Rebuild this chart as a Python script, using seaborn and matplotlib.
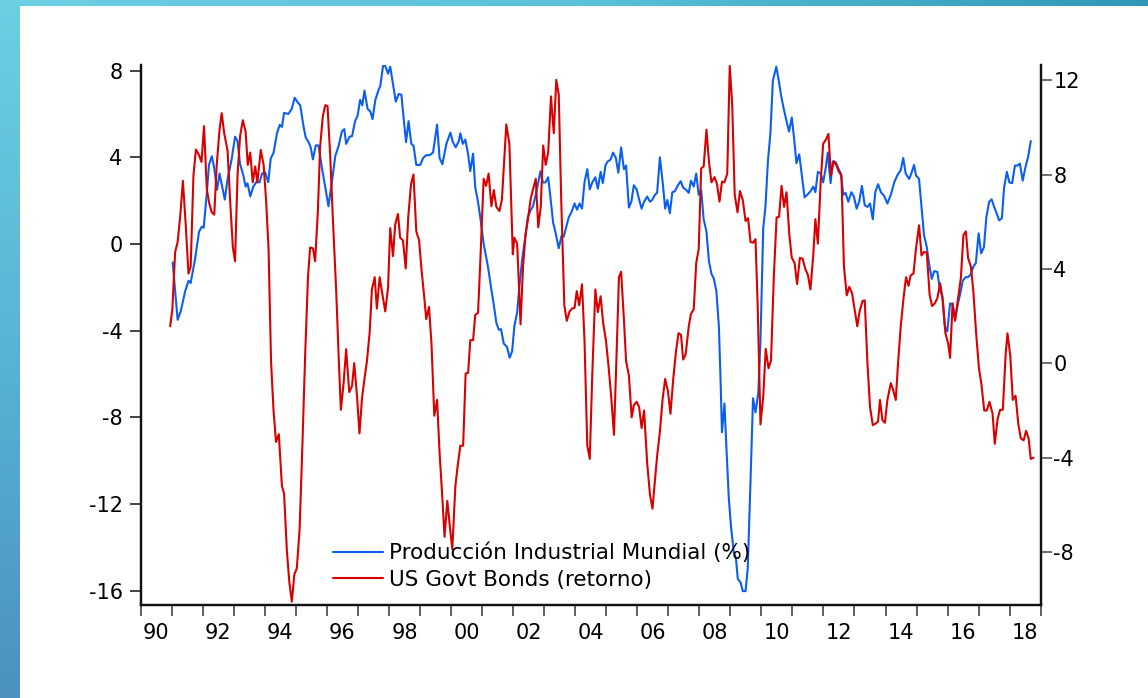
import matplotlib
matplotlib.use("Agg")
import numpy as np
import pandas as pd
import matplotlib.pyplot as plt
import seaborn as sns
from matplotlib.colors import LinearSegmentedColormap

# --- datos (anio decimal, valor) ---
ip_year = [
    1991.03, 1991.19, 1991.29, 1991.43, 1991.54, 1991.61, 1991.75, 1991.88, 1991.97, 1992.03,
    1992.13, 1992.20, 1992.29, 1992.37, 1992.46, 1992.54, 1992.61, 1992.71, 1992.80, 1992.93,
    1993.04, 1993.12, 1993.20, 1993.31, 1993.38, 1993.44, 1993.53, 1993.63, 1993.72, 1993.83,
    1993.91, 1994.01, 1994.11, 1994.19, 1994.28, 1994.39, 1994.48, 1994.55, 1994.62, 1994.76,
    1994.87, 1994.96, 1995.05, 1995.14, 1995.25, 1995.32, 1995.41, 1995.48, 1995.55, 1995.64,
    1995.73, 1995.84, 1995.95, 1996.05, 1996.19, 1996.27, 1996.38, 1996.48, 1996.56, 1996.62,
    1996.73, 1996.81, 1996.91, 1996.99, 1997.07, 1997.14, 1997.21, 1997.31, 1997.40, 1997.47,
    1997.56, 1997.67, 1997.72, 1997.81, 1997.88, 1997.97, 1998.04, 1998.15, 1998.22, 1998.31,
    1998.40, 1998.47, 1998.55, 1998.63, 1998.72, 1998.79, 1998.88, 1999.01, 1999.10, 1999.20,
    1999.31, 1999.42, 1999.55, 1999.63, 1999.72, 1999.85, 1999.98, 2000.06, 2000.15, 2000.25,
    2000.30, 2000.38, 2000.46, 2000.55, 2000.62, 2000.71, 2000.78, 2000.86, 2000.95, 2001.05,
    2001.19, 2001.29, 2001.38, 2001.46, 2001.54, 2001.61, 2001.70, 2001.80, 2001.89, 2001.97,
    2002.04, 2002.13, 2002.21, 2002.29, 2002.40, 2002.47, 2002.56, 2002.64, 2002.73, 2002.81,
    2002.88, 2002.96, 2003.04, 2003.13, 2003.20, 2003.29, 2003.36, 2003.47, 2003.56, 2003.63,
    2003.72, 2003.79, 2003.88, 2003.98, 2004.06, 2004.14, 2004.22, 2004.30, 2004.39, 2004.47,
    2004.55, 2004.65, 2004.73, 2004.82, 2004.89, 2004.98, 2005.05, 2005.14, 2005.22, 2005.31,
    2005.39, 2005.48, 2005.57, 2005.64, 2005.73, 2005.81, 2005.89, 2005.98, 2006.05, 2006.14,
    2006.22, 2006.32, 2006.41, 2006.48, 2006.57, 2006.64, 2006.73, 2006.82, 2006.90, 2006.97,
    2007.05, 2007.13, 2007.21, 2007.31, 2007.40, 2007.48, 2007.58, 2007.66, 2007.73, 2007.82,
    2007.90, 2007.98, 2008.06, 2008.14, 2008.23, 2008.31, 2008.39, 2008.47, 2008.55, 2008.63,
    2008.68, 2008.73, 2008.81, 2008.87, 2008.95, 2009.02, 2009.11, 2009.18, 2009.24, 2009.33,
    2009.40, 2009.49, 2009.56, 2009.65, 2009.73, 2009.81, 2009.90, 2009.97, 2010.06, 2010.13,
    2010.21, 2010.29, 2010.37, 2010.48, 2010.56, 2010.64, 2010.72, 2010.81, 2010.89, 2010.98,
    2011.06, 2011.13, 2011.22, 2011.29, 2011.39, 2011.48, 2011.58, 2011.67, 2011.74, 2011.82,
    2011.91, 2011.99, 2012.07, 2012.14, 2012.23, 2012.30, 2012.39, 2012.48, 2012.56, 2012.64,
    2012.71, 2012.80, 2012.90, 2012.98, 2013.07, 2013.15, 2013.24, 2013.33, 2013.42, 2013.50,
    2013.59, 2013.67, 2013.76, 2013.85, 2013.95, 2014.06, 2014.17, 2014.28, 2014.38, 2014.49,
    2014.57, 2014.65, 2014.76, 2014.83, 2014.92, 2014.98, 2015.08, 2015.17, 2015.24, 2015.33,
    2015.40, 2015.49, 2015.57, 2015.67, 2015.76, 2015.83, 2015.91, 2015.99, 2016.08, 2016.16,
    2016.24, 2016.32, 2016.40, 2016.49, 2016.58, 2016.66, 2016.75, 2016.83, 2016.91, 2017.00,
    2017.08, 2017.17, 2017.25, 2017.34, 2017.42, 2017.50, 2017.59, 2017.66, 2017.75, 2017.82,
    2017.91, 2017.99, 2018.08, 2018.17, 2018.25, 2018.33, 2018.42, 2018.50, 2018.60, 2018.68,
]
ip_value = [
    -0.85, -3.50, -3.10, -2.20, -1.70, -1.80, -0.70, 0.57, 0.80, 0.75,
    2.35, 3.65, 4.05, 3.50, 2.50, 3.25, 2.75, 2.05, 3.00, 3.90,
    4.95, 4.75, 3.70, 3.15, 2.65, 2.80, 2.20, 2.65, 2.85, 2.85,
    3.25, 3.30, 2.85, 3.95, 4.20, 5.10, 5.50, 5.40, 6.05, 6.00,
    6.25, 6.75, 6.55, 6.40, 5.40, 4.90, 4.70, 4.45, 3.90, 4.55,
    4.55, 3.50, 2.60, 1.74, 3.17, 4.06, 4.54, 5.19, 5.30, 4.62,
    4.95, 4.98, 5.68, 5.92, 6.65, 6.40, 7.08, 6.24, 6.11, 5.76,
    6.65, 7.13, 7.29, 8.22, 8.22, 7.86, 8.18, 7.21, 6.57, 6.92,
    6.89, 5.84, 4.70, 5.67, 4.62, 4.54, 3.65, 3.65, 3.97, 4.10,
    4.10, 4.22, 5.51, 3.97, 3.68, 4.62, 5.14, 4.70, 4.46, 4.75,
    5.11, 4.62, 4.82, 4.14, 3.36, 4.17, 2.60, 2.03, 1.14, 0.01,
    -1.05, -2.02, -2.83, -3.64, -3.96, -3.93, -4.60, -4.74, -5.25, -4.93,
    -3.80, -3.15, -1.85, -0.72, 0.41, 1.22, 1.55, 1.74, 2.27, 2.84,
    3.36, 2.84, 2.84, 3.08, 2.19, 0.98, 0.57, -0.20, 0.38, 0.33,
    0.82, 1.22, 1.47, 1.87, 1.58, 1.87, 1.63, 2.84, 3.45, 2.52,
    2.84, 3.08, 2.55, 3.33, 2.81, 3.65, 3.81, 3.89, 4.22, 3.97,
    3.29, 4.46, 3.45, 3.62, 1.68, 1.95, 2.71, 2.52, 2.11, 1.63,
    1.95, 2.19, 1.95, 2.03, 2.27, 2.36, 4.00, 2.84, 1.63, 2.03,
    1.42, 2.39, 2.43, 2.71, 2.90, 2.60, 2.49, 2.36, 2.92, 2.65,
    3.25, 2.27, 2.49, 1.14, 0.57, -0.80, -1.37, -1.61, -2.18, -3.80,
    -6.07, -8.69, -7.36, -9.30, -11.73, -13.03, -14.24, -14.49, -15.46, -15.62,
    -16.02, -16.02, -14.97, -10.92, -7.12, -7.77, -6.88, -4.45, 0.74, 1.71,
    3.81, 5.11, 7.54, 8.18, 7.54, 6.81, 6.24, 5.67, 5.19, 5.84,
    4.78, 3.73, 4.14, 3.33, 2.16, 2.27, 2.43, 2.65, 2.39, 3.33,
    3.25, 2.84, 3.49, 4.22, 2.81, 3.81, 3.78, 3.49, 3.25, 2.27,
    2.36, 1.95, 2.39, 2.19, 1.63, 1.95, 2.68, 1.79, 1.71, 1.87,
    1.14, 2.39, 2.76, 2.39, 2.23, 1.87, 2.27, 2.84, 3.17, 3.41,
    3.97, 3.25, 3.00, 3.25, 3.65, 3.17, 3.00, 1.55, 0.41, -0.15,
    -0.88, -1.61, -1.25, -1.29, -2.18, -2.38, -3.80, -4.04, -2.74, -2.79,
    -3.47, -2.83, -2.34, -1.69, -1.53, -1.53, -1.40, -1.05, -0.88, 0.49,
    -0.43, -0.15, 1.25, 1.95, 2.06, 1.71, 1.38, 1.09, 1.19, 2.60,
    3.33, 2.84, 2.81, 3.62, 3.62, 3.71, 2.92, 3.49, 4.06, 4.75,
]

bond_year = [
    1990.95, 1991.02, 1991.11, 1991.19, 1991.27, 1991.36, 1991.45, 1991.54, 1991.61, 1991.70,
    1991.78, 1991.88, 1991.96, 1992.04, 1992.13, 1992.21, 1992.29, 1992.37, 1992.45, 1992.54,
    1992.61, 1992.69, 1992.80, 1992.88, 1992.97, 1993.04, 1993.12, 1993.20, 1993.29, 1993.38,
    1993.45, 1993.53, 1993.61, 1993.69, 1993.76, 1993.87, 1993.96, 1994.04, 1994.12, 1994.20,
    1994.28, 1994.36, 1994.45, 1994.55, 1994.62, 1994.71, 1994.79, 1994.87, 1994.95, 1995.03,
    1995.12, 1995.21, 1995.30, 1995.39, 1995.46, 1995.55, 1995.62, 1995.71, 1995.78, 1995.87,
    1995.95, 1996.02, 1996.11, 1996.19, 1996.30, 1996.38, 1996.45, 1996.54, 1996.62, 1996.72,
    1996.81, 1996.88, 1996.97, 1997.05, 1997.13, 1997.21, 1997.29, 1997.38, 1997.45, 1997.54,
    1997.61, 1997.70, 1997.79, 1997.88, 1997.97, 1998.04, 1998.13, 1998.20, 1998.29, 1998.36,
    1998.45, 1998.54, 1998.62, 1998.71, 1998.79, 1998.88, 1998.97, 1999.05, 1999.14, 1999.20,
    1999.29, 1999.37, 1999.46, 1999.55, 1999.63, 1999.72, 1999.79, 1999.88, 1999.96, 2000.04,
    2000.14, 2000.21, 2000.30, 2000.39, 2000.47, 2000.55, 2000.62, 2000.71, 2000.78, 2000.87,
    2000.95, 2001.05, 2001.13, 2001.21, 2001.30, 2001.38, 2001.46, 2001.56, 2001.64, 2001.78,
    2001.88, 2001.99, 2002.04, 2002.13, 2002.24, 2002.32, 2002.40, 2002.47, 2002.56, 2002.64,
    2002.73, 2002.81, 2002.89, 2002.97, 2003.05, 2003.13, 2003.22, 2003.31, 2003.39, 2003.47,
    2003.55, 2003.65, 2003.73, 2003.82, 2003.90, 2003.98, 2004.05, 2004.13, 2004.22, 2004.30,
    2004.39, 2004.47, 2004.55, 2004.65, 2004.73, 2004.82, 2004.90, 2004.99, 2005.07, 2005.16,
    2005.25, 2005.33, 2005.41, 2005.48, 2005.57, 2005.64, 2005.73, 2005.82, 2005.89, 2005.98,
    2006.06, 2006.14, 2006.22, 2006.32, 2006.41, 2006.49, 2006.57, 2006.64, 2006.73, 2006.82,
    2006.90, 2006.99, 2007.07, 2007.16, 2007.25, 2007.33, 2007.41, 2007.48, 2007.56, 2007.66,
    2007.73, 2007.82, 2007.90, 2007.98, 2008.06, 2008.14, 2008.23, 2008.31, 2008.39, 2008.49,
    2008.57, 2008.65, 2008.73, 2008.81, 2008.90, 2008.98, 2009.06, 2009.14, 2009.23, 2009.31,
    2009.40, 2009.49, 2009.57, 2009.65, 2009.73, 2009.81, 2009.88, 2009.97, 2010.06, 2010.14,
    2010.23, 2010.31, 2010.40, 2010.49, 2010.57, 2010.65, 2010.73, 2010.81, 2010.90, 2010.98,
    2011.07, 2011.15, 2011.24, 2011.33, 2011.41, 2011.50, 2011.58, 2011.67, 2011.74, 2011.82,
    2011.91, 2011.99, 2012.08, 2012.16, 2012.24, 2012.33, 2012.41, 2012.50, 2012.58, 2012.66,
    2012.75, 2012.83, 2012.92, 2013.00, 2013.09, 2013.17, 2013.26, 2013.33, 2013.42, 2013.50,
    2013.59, 2013.67, 2013.76, 2013.82, 2013.90, 2013.98, 2014.06, 2014.17, 2014.24, 2014.33,
    2014.40, 2014.49, 2014.58, 2014.66, 2014.74, 2014.81, 2014.90, 2014.98, 2015.08, 2015.16,
    2015.24, 2015.33, 2015.42, 2015.50, 2015.59, 2015.67, 2015.76, 2015.85, 2015.93, 2016.02,
    2016.08, 2016.16, 2016.24, 2016.34, 2016.43, 2016.51, 2016.59, 2016.66, 2016.75, 2016.83,
    2016.92, 2017.01, 2017.09, 2017.18, 2017.26, 2017.35, 2017.45, 2017.52, 2017.61, 2017.69,
    2017.78, 2017.87, 2017.93, 2018.02, 2018.10, 2018.19, 2018.28, 2018.36, 2018.45, 2018.53,
    2018.61, 2018.68, 2018.77,
]
bond_value = [
    1.57, 2.29, 4.72, 5.14, 6.18, 7.73, 5.88, 3.80, 4.10, 7.97,
    9.06, 8.82, 8.53, 10.05, 7.37, 6.77, 6.40, 6.30, 8.41, 9.90,
    10.60, 9.75, 9.00, 6.92, 4.91, 4.32, 7.96, 9.60, 10.30, 9.82,
    8.41, 8.93, 7.67, 8.34, 7.67, 9.04, 8.41, 6.92, 4.84, 0.09,
    -2.00, -3.33, -3.00, -5.19, -5.53, -7.94, -9.28, -10.10, -8.95, -8.69,
    -7.05, -3.48, 0.38, 3.65, 4.91, 4.87, 4.32, 6.48, 9.15, 10.49,
    10.94, 10.90, 8.70, 6.18, 3.06, 0.23, -1.97, -0.81, 0.60, -1.22,
    -0.96, 0.01, -1.40, -2.97, -1.48, -0.66, 0.09, 1.35, 3.13, 3.65,
    2.32, 3.65, 2.91, 2.20, 3.21, 5.73, 4.54, 5.88, 6.33, 5.32,
    5.21, 4.02, 6.18, 7.59, 8.00, 5.59, 5.21, 3.95, 2.76, 1.87,
    2.39, 0.83, -2.22, -1.55, -3.78, -5.71, -7.35, -5.83, -6.90, -7.87,
    -5.19, -4.38, -3.49, -3.49, -0.43, -0.40, 0.98, 0.98, 2.05, 2.14,
    4.55, 7.82, 7.52, 8.04, 6.66, 7.34, 6.63, 6.45, 6.95, 10.12,
    9.30, 4.62, 5.32, 5.07, 1.65, 4.10, 5.44, 6.03, 6.92, 7.37,
    7.82, 5.76, 6.63, 9.23, 8.41, 8.93, 11.31, 9.75, 12.01, 11.39,
    6.92, 2.46, 1.80, 2.20, 2.32, 2.35, 3.06, 2.46, 3.35, 0.98,
    -3.49, -4.05, -0.51, 3.13, 2.17, 2.84, 1.72, 0.98, -0.06, -1.40,
    -3.03, 0.23, 3.65, 3.88, 1.87, 0.09, -0.51, -2.29, -1.77, -1.63,
    -1.85, -2.74, -2.00, -4.23, -5.57, -6.16, -4.97, -3.93, -2.89, -1.48,
    -0.66, -1.19, -2.14, -0.66, 0.53, 1.28, 1.20, 0.16, 0.38, 1.57,
    2.09, 2.29, 4.25, 4.84, 8.26, 8.34, 9.90, 8.56, 7.67, 7.89,
    7.59, 6.85, 7.70, 7.67, 8.04, 12.60, 10.94, 7.15, 6.40, 7.30,
    6.92, 6.03, 6.15, 5.14, 5.11, 5.26, 2.46, -2.59, -1.40, 0.61,
    -0.21, 0.12, 3.65, 6.18, 6.21, 7.52, 6.63, 7.25, 5.44, 4.47,
    4.25, 3.36, 4.47, 4.43, 4.02, 3.73, 3.13, 4.55, 6.11, 5.07,
    7.67, 9.30, 9.48, 9.72, 7.96, 8.56, 8.41, 8.11, 7.96, 4.10,
    2.88, 3.24, 2.98, 2.32, 1.57, 2.24, 2.64, 2.67, -0.06, -1.85,
    -2.62, -2.56, -2.47, -1.55, -2.41, -2.52, -1.55, -0.84, -1.10, -1.55,
    -0.06, 1.57, 2.76, 3.65, 3.28, 3.73, 3.80, 4.84, 5.85, 4.57,
    4.72, 4.69, 2.91, 2.43, 2.54, 2.76, 3.39, 2.61, 1.27, 0.83,
    0.23, 2.54, 1.80, 2.76, 3.65, 5.44, 5.59, 4.47, 4.10, 3.06,
    1.27, -0.21, -0.88, -2.00, -2.00, -1.63, -2.14, -3.41, -2.37, -1.97,
    -1.97, 0.38, 1.27, 0.31, -1.55, -1.37, -2.59, -3.18, -3.26, -2.86,
    -3.18, -4.05, -4.00,
]

label_ip = "Producción Industrial Mundial (%)"
label_bond = "US Govt Bonds (retorno)"
year_labels = ["90", "92", "94", "96", "98", "00", "02", "04", "06", "08",
               "10", "12", "14", "16", "18"]
left_ticks = [-16, -12, -8, -4, 0, 4, 8]
right_ticks = [-8, -4, 0, 4, 8, 12]

df_ip = pd.DataFrame({"year": ip_year, "value": ip_value})
df_bond = pd.DataFrame({"year": bond_year, "value": bond_value})

BLUE = "#0a5ff0"
RED = "#d90000"

sns.set_style("white")
plt.rcParams["font.family"] = ["DejaVu Sans"]
plt.rcParams["axes.unicode_minus"] = False
plt.rcParams["text.color"] = "black"
plt.rcParams["xtick.color"] = "black"
plt.rcParams["ytick.color"] = "black"

W, H = 1148, 698
fig = plt.figure(figsize=(W / 100, H / 100), dpi=100)

# barras decorativas (plantilla de la presentacion)
top_cmap = LinearSegmentedColormap.from_list("top", ["#6dcfe2", "#5bc2da", "#2f98b6"])
left_cmap = LinearSegmentedColormap.from_list("left", ["#6dcfe2", "#58b4d4", "#4a91bf"])
grad = np.linspace(0, 1, 256)
bar_top = fig.add_axes([0, 1 - 6 / H, 1, 6 / H])
bar_top.imshow(grad[np.newaxis, :], aspect="auto", cmap=top_cmap)
bar_top.axis("off")
bar_left = fig.add_axes([0, 0, 20 / W, 1])
bar_left.imshow(grad[:, np.newaxis], aspect="auto", cmap=left_cmap)
bar_left.axis("off")

# ejes principales
ax = fig.add_axes([140.7 / W, (H - 605) / H, 900 / W, 540 / H])
ax2 = ax.twinx()

sns.lineplot(data=df_ip, x="year", y="value", ax=ax, color=BLUE, linewidth=1.5,
             estimator=None, label=label_ip)
sns.lineplot(data=df_bond, x="year", y="value", ax=ax2, color=RED, linewidth=1.5,
             estimator=None, label=label_bond)

ax.set_xlim(1990, 2019)
ax.set_ylim(-16.66, 8.26)
ax2.set_ylim(-10.24, 12.64)
ax.set_xlabel("")
ax.set_ylabel("")
ax2.set_ylabel("")

# eje x: marcas por anio, etiquetas centradas en los anios pares
ax.set_xticks(np.arange(1990, 2020))
ax.set_xticklabels([])
ax.set_xticks([1990.5 + 2 * i for i in range(len(year_labels))], minor=True)
ax.set_xticklabels(year_labels, minor=True)
ax.tick_params(axis="x", which="major", direction="out", length=8, width=1.2,
               color="#444444", bottom=True)
ax.tick_params(axis="x", which="minor", length=0, pad=13, labelsize=15,
               labelcolor="black")

ax.set_yticks(left_ticks)
ax.set_yticklabels([str(t) for t in left_ticks])
ax.tick_params(axis="y", direction="out", length=8, width=1.2, color="#222222",
               left=True, pad=5, labelsize=15, labelcolor="black")
ax2.set_yticks(right_ticks)
ax2.set_yticklabels([str(t) for t in right_ticks])
ax2.tick_params(axis="y", direction="out", length=8, width=1.2, color="#555555",
                right=True, pad=1, labelsize=15, labelcolor="black")

for a in (ax, ax2):
    a.spines["top"].set_visible(False)
    for s in ("left", "right", "bottom"):
        a.spines[s].set_linewidth(1.6)
        a.spines[s].set_color("#111111")
ax.patch.set_alpha(0)

# leyenda combinada
if ax.get_legend() is not None:
    ax.get_legend().remove()
h1, l1 = ax.get_legend_handles_labels()
h2, l2 = ax2.get_legend_handles_labels()
leg = ax2.legend(h1 + h2, l1 + l2, loc="center left", bbox_to_anchor=(0.2137, 0.072),
                 frameon=False, fontsize=15.5, handlelength=2.3, handletextpad=0.3,
                 labelspacing=0.3, borderpad=0, borderaxespad=0)
for t in leg.get_texts():
    t.set_color("black")

fig.savefig("out.png", dpi=100)
